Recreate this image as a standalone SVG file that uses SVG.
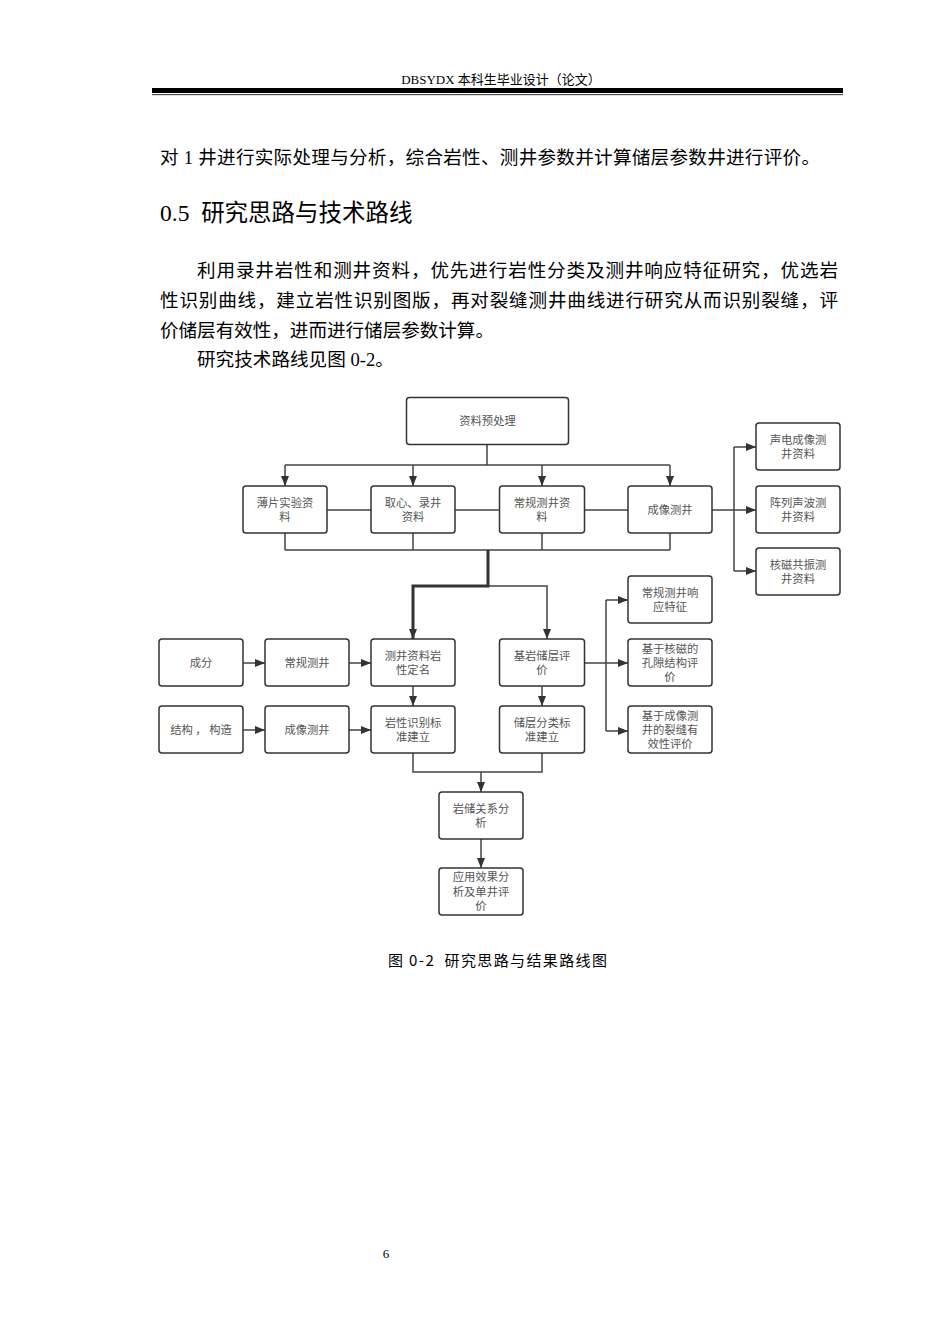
<svg xmlns="http://www.w3.org/2000/svg" width="950" height="1344" viewBox="0 0 950 1344">
<style>
.pg{font-family:"Liberation Serif","Noto Sans CJK SC",serif;fill:#000}
.body{font-size:18.6px}
.hd{font-size:13px}
.h2{font-size:23.5px}
.cap{font-family:"Noto Sans CJK SC","DejaVu Sans Mono",sans-serif;font-size:15px;fill:#000}
.node rect{fill:#fff;stroke:#333;stroke-width:1.5}
.node text{font-family:"Noto Sans CJK SC","Noto Sans",sans-serif;font-size:11.3px;fill:#555;text-anchor:middle}
.c path{fill:none;stroke:#444;stroke-width:1.5}
.c path.a{marker-end:url(#ah)}
.c path.thick{stroke:#333;stroke-width:3}
</style>
<defs>
<marker id="ah" viewBox="0 0 10 8" refX="10" refY="4" markerWidth="10" markerHeight="8" markerUnits="userSpaceOnUse" orient="auto">
<path d="M0,0 L10,4 L0,8 z" fill="#333"/>
</marker>
</defs>
<rect x="0" y="0" width="950" height="1344" fill="#fff"/>

<!-- header -->
<text class="pg hd" x="501" y="84" text-anchor="middle">DBSYDX 本科生毕业设计（论文）</text>
<rect x="152" y="88" width="691" height="5" fill="#000"/>
<rect x="152" y="94" width="691" height="1.2" fill="#555"/>

<!-- body text -->
<text class="pg body" x="160" y="164" textLength="660" lengthAdjust="spacing">对 1 井进行实际处理与分析，综合岩性、测井参数并计算储层参数井进行评价。</text>
<text class="pg h2" x="160" y="221" xml:space="preserve">0.5  研究思路与技术路线</text>
<text class="pg body" x="197" y="277" textLength="641" lengthAdjust="spacing">利用录井岩性和测井资料，优先进行岩性分类及测井响应特征研究，优选岩</text>
<text class="pg body" x="160" y="307" textLength="678" lengthAdjust="spacing">性识别曲线，建立岩性识别图版，再对裂缝测井曲线进行研究从而识别裂缝，评</text>
<text class="pg body" x="160" y="337" textLength="334" lengthAdjust="spacing">价储层有效性，进而进行储层参数计算。</text>
<text class="pg body" x="197" y="366">研究技术路线见图 0-2。</text>

<!-- connectors -->
<g id="connectors" class="c">
<path d="M487,444 V465 M285,465 H670"/>
<path class="a" d="M285,465 V486"/>
<path class="a" d="M413,465 V486"/>
<path class="a" d="M542,465 V486"/>
<path class="a" d="M670,465 V486"/>
<path d="M327,510 H371 M455,510 H499 M584,510 H628"/>
<path d="M712,510 H734 M734,447 V571"/>
<path class="a" d="M734,447 H756"/>
<path class="a" d="M734,510 H756"/>
<path class="a" d="M734,571 H756"/>
<path d="M285,533 V550 M413,533 V550 M542,533 V550 M670,533 V550 M285,550 H670"/>
<path class="a" d="M488,586 H547 V639"/>
<path class="a thick" d="M488,550 V586 H413 V639"/>
<path class="a" d="M243,663 H265"/>
<path class="a" d="M349,663 H371"/>
<path class="a" d="M243,730 H265"/>
<path class="a" d="M349,730 H371"/>
<path class="a" d="M413,686 V706"/>
<path class="a" d="M542,686 V706"/>
<path d="M584,663 H606 M606,600 V731"/>
<path class="a" d="M606,600 H628"/>
<path class="a" d="M606,663 H628"/>
<path class="a" d="M606,731 H628"/>
<path d="M413,753 V772 H542 V753"/>
<path class="a" d="M481,772 V792"/>
<path class="a" d="M481,839 V868"/>
</g>

<!-- nodes -->
<g id="n-preprocess" class="node"><rect x="406.5" y="397.5" width="162" height="47" rx="3"/><text x="487.5" y="425">资料预处理</text></g>
<g id="n-thin" class="node"><rect x="243" y="486" width="84" height="47" rx="3"/><text x="285" y="507">薄片实验资</text><text x="285" y="521">料</text></g>
<g id="n-core" class="node"><rect x="371" y="486" width="84" height="47" rx="3"/><text x="413" y="507">取心、录井</text><text x="413" y="521">资料</text></g>
<g id="n-conv" class="node"><rect x="499.5" y="486" width="85" height="47" rx="3"/><text x="542" y="507">常规测井资</text><text x="542" y="521">料</text></g>
<g id="n-img" class="node"><rect x="628" y="486" width="84" height="47" rx="3"/><text x="670" y="514">成像测井</text></g>
<g id="n-r1" class="node"><rect x="756" y="423" width="84" height="47" rx="3"/><text x="798" y="444">声电成像测</text><text x="798" y="458">井资料</text></g>
<g id="n-r2" class="node"><rect x="756" y="486" width="84" height="47" rx="3"/><text x="798" y="507">阵列声波测</text><text x="798" y="521">井资料</text></g>
<g id="n-r3" class="node"><rect x="756" y="548" width="84" height="47" rx="3"/><text x="798" y="569">核磁共振测</text><text x="798" y="583">井资料</text></g>
<g id="n-comp" class="node"><rect x="159" y="639" width="84" height="47" rx="3"/><text x="201" y="667">成分</text></g>
<g id="n-convlog" class="node"><rect x="265" y="639" width="84" height="47" rx="3"/><text x="307" y="667">常规测井</text></g>
<g id="n-naming" class="node"><rect x="371" y="639" width="84" height="47" rx="3"/><text x="413" y="660">测井资料岩</text><text x="413" y="674">性定名</text></g>
<g id="n-eval" class="node"><rect x="499.5" y="639" width="85" height="47" rx="3"/><text x="542" y="660">基岩储层评</text><text x="542" y="674">价</text></g>
<g id="n-struct" class="node"><rect x="159" y="706" width="84" height="47" rx="3"/><text x="201" y="734">结构 ， 构造</text></g>
<g id="n-imglog" class="node"><rect x="265" y="706" width="84" height="47" rx="3"/><text x="307" y="734">成像测井</text></g>
<g id="n-litho" class="node"><rect x="371" y="706" width="84" height="47" rx="3"/><text x="413" y="727">岩性识别标</text><text x="413" y="741">准建立</text></g>
<g id="n-class" class="node"><rect x="499.5" y="706" width="85" height="47" rx="3"/><text x="542" y="727">储层分类标</text><text x="542" y="741">准建立</text></g>
<g id="n-e1" class="node"><rect x="628" y="576" width="84" height="47" rx="3"/><text x="670" y="597">常规测井响</text><text x="670" y="611">应特征</text></g>
<g id="n-e2" class="node"><rect x="628" y="639" width="84" height="47" rx="3"/><text x="670" y="653">基于核磁的</text><text x="670" y="667">孔隙结构评</text><text x="670" y="681">价</text></g>
<g id="n-e3" class="node"><rect x="628" y="706" width="84" height="47" rx="3"/><text x="670" y="720">基于成像测</text><text x="670" y="734">井的裂缝有</text><text x="670" y="748">效性评价</text></g>
<g id="n-rel" class="node"><rect x="439" y="792" width="84" height="47" rx="3"/><text x="481" y="813">岩储关系分</text><text x="481" y="827">析</text></g>
<g id="n-app" class="node"><rect x="439" y="868" width="84" height="47" rx="3"/><text x="481" y="881">应用效果分</text><text x="481" y="895.5">析及单井评</text><text x="481" y="910">价</text></g>

<!-- caption -->
<text class="cap" x="388" y="966" textLength="219" lengthAdjust="spacing" xml:space="preserve">图 0-2  研究思路与结果路线图</text>

<!-- page number -->
<text x="386" y="1258" text-anchor="middle" font-family="Liberation Serif, serif" font-size="13" fill="#000">6</text>
</svg>
